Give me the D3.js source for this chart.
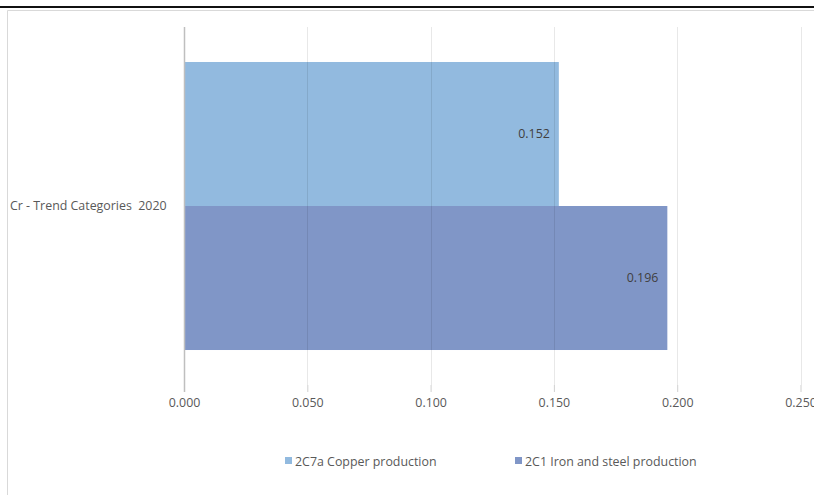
<!DOCTYPE html>
<html><head><meta charset="utf-8">
<script src="https://cdn.jsdelivr.net/npm/d3@7"></script>
<style>body{margin:0;background:#fff}svg{display:block}text{font-family:"Open Sans",sans-serif;white-space:pre}</style>
</head><body>
<svg id="c" width="814" height="495"></svg>
<script>
const categories = ["Cr - Trend Categories  2020"];
const seriesNames = ["2C7a Copper production", "2C1 Iron and steel production"];
const seriesValues = [0.152, 0.196];
const seriesColors = ["#92badf", "#8096c7"];
const tickValues = [0, 0.05, 0.1, 0.15, 0.2, 0.25];

const FS = "12.4px";
const svg = d3.select("#c");
// frame
svg.append("rect").attr("x",0).attr("y",6).attr("width",814).attr("height",2).attr("fill","#111");
svg.append("line").attr("x1",7.5).attr("x2",814).attr("y1",10.5).attr("y2",10.5).attr("stroke","#d9d9d9");
svg.append("line").attr("x1",7.5).attr("x2",7.5).attr("y1",10.5).attr("y2",495).attr("stroke","#d9d9d9");

const x = d3.scaleLinear().domain([0,0.25]).range([184,800.5]);
const yTop = 27, yBot = 385;
const band = d3.scaleBand().domain(categories).range([yTop,yBot]).paddingInner(0).paddingOuter(0.1215);
const sub = d3.scaleBand().domain(seriesNames).range([0, band.bandwidth()]);

const g = svg.append("g");
const cat = categories[0];
g.selectAll("rect.bar").data(seriesNames).join("rect")
  .attr("x", x(0)).attr("y", d=>band(cat)+sub(d))
  .attr("width", (d,i)=>x(seriesValues[i])-x(0)).attr("height", sub.bandwidth())
  .attr("fill",(d,i)=>seriesColors[i]);
g.selectAll("line.grid").data(tickValues.slice(1)).join("line")
  .attr("x1",d=>Math.round(x(d))+0.5).attr("x2",d=>Math.round(x(d))+0.5)
  .attr("y1",yTop).attr("y2",yBot).attr("stroke","rgba(0,0,0,0.09)");
const ax = d3.axisBottom(x).tickValues(tickValues).tickFormat(d3.format(".3f")).tickSize(7).tickPadding(6);
const axg = svg.append("g").attr("transform",`translate(0,${yBot})`).call(ax);
axg.select(".domain").remove();
axg.selectAll(".tick line").attr("stroke","#d0d0d0");
axg.selectAll(".tick text").attr("fill","#595959").attr("font-size",FS).attr("font-family","Open Sans");
svg.append("line").attr("x1",184.5).attr("x2",184.5).attr("y1",yTop).attr("y2",yBot+7).attr("stroke","#bfbfbf").attr("stroke-width",1.5);
svg.append("text").attr("x",10).attr("y",band(cat)+band.bandwidth()/2+4)
  .attr("fill","#595959").attr("font-size",FS).attr("xml:space","preserve").text(cat);
g.selectAll("text.lbl").data(seriesNames).join("text")
  .attr("x",(d,i)=>x(seriesValues[i])-9).attr("y",d=>band(cat)+sub(d)+sub.bandwidth()/2+4)
  .attr("text-anchor","end").attr("fill","#404040").attr("font-size",FS)
  .text((d,i)=>d3.format(".3f")(seriesValues[i]));
const legX = [285, 515];
const lg = svg.selectAll("g.leg").data(seriesNames).join("g").attr("transform",(d,i)=>`translate(${legX[i]},461)`);
lg.append("rect").attr("x",0).attr("y",-4).attr("width",7).attr("height",7).attr("fill",(d,i)=>seriesColors[i]);
lg.append("text").attr("x",10).attr("y",4.5).attr("fill","#595959").attr("font-size",FS).text(d=>d);
</script>
</body></html>
